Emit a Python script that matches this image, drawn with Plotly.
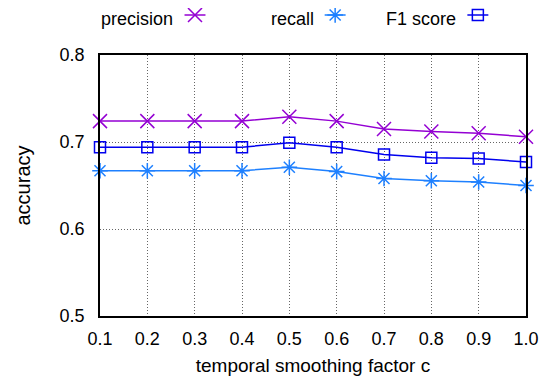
import plotly.graph_objects as go

c_values = [0.1, 0.2, 0.3, 0.4, 0.5, 0.6, 0.7, 0.8, 0.9, 1.0]
precision = [0.724, 0.724, 0.724, 0.724, 0.729, 0.724, 0.715, 0.712, 0.710, 0.706]
recall = [0.667, 0.667, 0.667, 0.667, 0.671, 0.666, 0.658, 0.6555, 0.654, 0.650]
f1_score = [0.694, 0.694, 0.694, 0.694, 0.699, 0.694, 0.6855, 0.682, 0.681, 0.677]
x_ticks = [0.1, 0.2, 0.3, 0.4, 0.5, 0.6, 0.7, 0.8, 0.9, 1.0]
x_tick_labels = ["0.1", "0.2", "0.3", "0.4", "0.5", "0.6", "0.7", "0.8", "0.9", "1.0"]
y_ticks = [0.5, 0.6, 0.7, 0.8]
y_tick_labels = ["0.5", "0.6", "0.7", "0.8"]

series = [
    ("precision", precision, "#9400d3", "x-thin-open", 14),
    ("recall", recall, "#1e80ff", "asterisk-open", 13),
    ("F1 score", f1_score, "#0000ee", "square-open", 11),
]

FONT = "Liberation Sans, Arial, Helvetica, sans-serif"
fig = go.Figure()
for name, vals, color, sym, size in series:
    fig.add_trace(go.Scatter(
        x=c_values, y=vals, mode="lines+markers", name=name,
        line=dict(color=color, width=1.5),
        marker=dict(symbol=sym, size=size, color=color, line=dict(color=color, width=1.5)),
        cliponaxis=False, showlegend=False,
    ))

# legend row drawn on an auxiliary axis: text then sample on the right
legend_text_x = [0.0, 0.399, 0.669]
legend_sample_x = [0.223, 0.552, 0.887]
for (name, vals, color, sym, size), tx, sx in zip(series, legend_text_x, legend_sample_x):
    fig.add_trace(go.Scatter(
        x=[sx - 0.0246, sx, sx + 0.0246], y=[0.773, 0.773, 0.773], mode="lines",
        line=dict(color=color, width=1.5), xaxis="x2", yaxis="y2",
        showlegend=False, hoverinfo="skip", cliponaxis=False))
    fig.add_trace(go.Scatter(
        x=[sx], y=[0.773], mode="markers", xaxis="x2", yaxis="y2",
        marker=dict(symbol=sym, size=size, color=color, line=dict(color=color, width=1.5)),
        showlegend=False, hoverinfo="skip", cliponaxis=False))
    fig.add_annotation(x=tx, y=0.655, xref="x2", yref="y2", text=name, showarrow=False,
                       xanchor="left", yanchor="middle", borderpad=0,
                       font=dict(family=FONT, size=18, color="#000000"))

fig.update_layout(
    width=542, height=372,
    margin=dict(l=92, r=24, t=0, b=64, autoexpand=False),
    paper_bgcolor="white", plot_bgcolor="white",
    font=dict(family=FONT, size=18, color="#000000"),
    xaxis=dict(
        range=[0.1, 1.0], tickvals=x_ticks, ticktext=x_tick_labels,
        showgrid=True, gridcolor="#666666", griddash="1px,2px", gridwidth=1,
        showline=True, linecolor="black", linewidth=1.5, mirror=True,
        ticks="", zeroline=False, ticklabelstandoff=6,
        title=dict(text="temporal smoothing factor c", font=dict(size=19), standoff=10),
        tickfont=dict(size=18),
    ),
    yaxis=dict(
        range=[0.5, 0.8], tickvals=y_ticks, ticktext=y_tick_labels,
        domain=[0, 0.8474],
        showgrid=True, gridcolor="#666666", griddash="1px,2px", gridwidth=1,
        showline=True, linecolor="black", linewidth=1.5, mirror=True,
        ticks="", zeroline=False, ticklabelstandoff=10,
        title=dict(text="accuracy", font=dict(size=20), standoff=24),
        tickfont=dict(size=18),
    ),
    xaxis2=dict(range=[0, 1], domain=[0, 1], anchor="y2", visible=False, fixedrange=True),
    yaxis2=dict(range=[0, 1], domain=[0.9, 1], anchor="x2", visible=False, fixedrange=True),
)

fig.write_html("out.html")
